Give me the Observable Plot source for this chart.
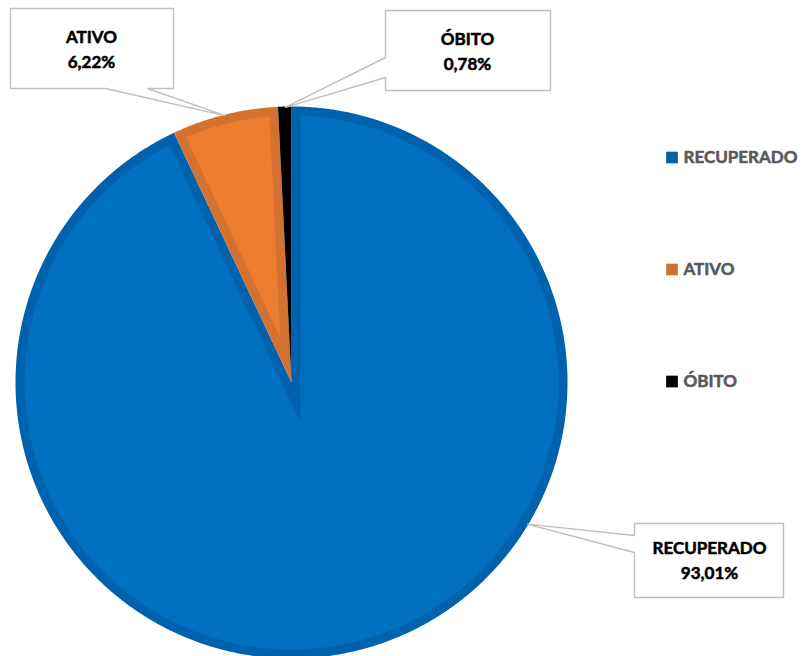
<!DOCTYPE html>
<html><head><meta charset="utf-8">
<script src="https://cdn.jsdelivr.net/npm/d3@7"></script>
<script src="https://cdn.jsdelivr.net/npm/@observablehq/plot@0.6"></script>
<style>body{margin:0;background:#fff;overflow:hidden}</style>
</head><body><div id="chart"></div>
<script>
// ---- data ----
const categories = ["RECUPERADO", "ATIVO", "ÓBITO"];
const values = [93.01, 6.22, 0.78];
const valueLabels = ["93,01%", "6,22%", "0,78%"];

// ---- layout & style ----
const W = 802, H = 656, CX = 291, CY = 382, R = 276, INSET = 9;
const fillColor = {"RECUPERADO": "#0070C0", "ATIVO": "#ED7D31", "ÓBITO": "#000000"};
const borderColor = {"RECUPERADO": "#0061AD", "ATIVO": "#D37130", "ÓBITO": "#000000"};
const font = "Lato, 'Open Sans', sans-serif";

const slices = d3.pie().sort(null).value(d => d.value)(
  categories.map((name, i) => ({name, value: values[i], label: valueLabels[i]}))
);
const pt = (a, r) => [CX + r * Math.sin(a), CY - r * Math.cos(a)];

function arcPoints(name, a0, a1, r, apex) {
  const rows = [{name, x: apex[0], y: apex[1]}];
  const n = Math.max(2, Math.ceil((a1 - a0) / 0.005));
  for (let k = 0; k <= n; k++) {
    const [x, y] = pt(a0 + (a1 - a0) * k / n, r);
    rows.push({name, x, y});
  }
  return rows;
}

const outer = [], inner = [];
for (const s of slices) {
  const name = s.data.name;
  outer.push(...arcPoints(name, s.startAngle, s.endAngle, R, [CX, CY]));
  const theta = s.endAngle - s.startAngle;
  const h = INSET / Math.sin(theta / 2);
  if (h < R - INSET - 2) {
    const mid = (s.startAngle + s.endAngle) / 2;
    const d = Math.asin(INSET / (R - INSET));
    inner.push(...arcPoints(name, s.startAngle + d, s.endAngle - d, R - INSET, pt(mid, h)));
  }
}

// callout shapes (box + pointer to slice)
const sliceOf = Object.fromEntries(slices.map(s => [s.data.name, s]));
const midAnchor = name => { const s = sliceOf[name]; return pt((s.startAngle + s.endAngle) / 2, R - 1); };
const anchorRec = pt(121 * Math.PI / 180, R - 1);
const aA = midAnchor("ATIVO"), aO = midAnchor("ÓBITO");
const callouts = [
  {name: "ATIVO", pts: [[10,8],[173,8],[173,88],[147,88],aA,[105,88],[10,88],[10,8]], cx: 91, cy: 37},
  {name: "ÓBITO", pts: [[385,10],[550,10],[550,90],[385,90],[385,77],aO,[385,57],[385,10]], cx: 467, cy: 39},
  {name: "RECUPERADO", pts: [[634,523],[783,523],[783,597],[634,597],[634,552],anchorRec,[634,535],[634,523]], cx: 709, cy: 548}
];
const calloutRows = callouts.flatMap(c => c.pts.map(([x, y]) => ({name: c.name, x, y})));
const calloutText = callouts.map(c => {
  const i = categories.indexOf(c.name);
  return {x: c.cx, y: c.cy, name: categories[i], label: valueLabels[i]};
});

const legendY = [157, 269, 381];
const legendRows = categories.map((name, i) => ({name, y: legendY[i]}));

const textStyle = {fontSize: 17, fontWeight: "bold", fontFamily: font, strokeWidth: 0.55};

const chart = Plot.plot({
  width: W, height: H,
  margin: 0,
  x: {type: "identity", axis: null},
  y: {type: "identity", axis: null},
  color: {type: "identity"},
  style: {background: "#fff", fontFamily: font},
  marks: [
    Plot.line(outer, {x: "x", y: "y", z: "name", fill: d => borderColor[d.name], stroke: "none", curve: "linear"}),
    Plot.line(inner, {x: "x", y: "y", z: "name", fill: d => fillColor[d.name], stroke: "none", curve: "linear"}),
    Plot.line(calloutRows, {x: "x", y: "y", z: "name", fill: "white", stroke: "#BFBFBF", strokeWidth: 1.4, curve: "linear", strokeLinejoin: "miter"}),
    Plot.text(calloutText, {x: "x", y: "y", text: "name", fill: "#000", stroke: "#000", ...textStyle}),
    Plot.text(calloutText, {x: "x", y: d => d.y + 25, text: "label", fill: "#000", stroke: "#000", ...textStyle}),
    Plot.dot(legendRows, {x: 671.5, y: "y", symbol: "square", r: 6.6, fill: d => borderColor[d.name], stroke: "none"}),
    Plot.text(legendRows, {x: 683, y: "y", text: "name", textAnchor: "start", fill: "#595959", stroke: "#595959", ...textStyle})
  ]
});
document.getElementById("chart").appendChild(chart);
</script>
</body></html>
